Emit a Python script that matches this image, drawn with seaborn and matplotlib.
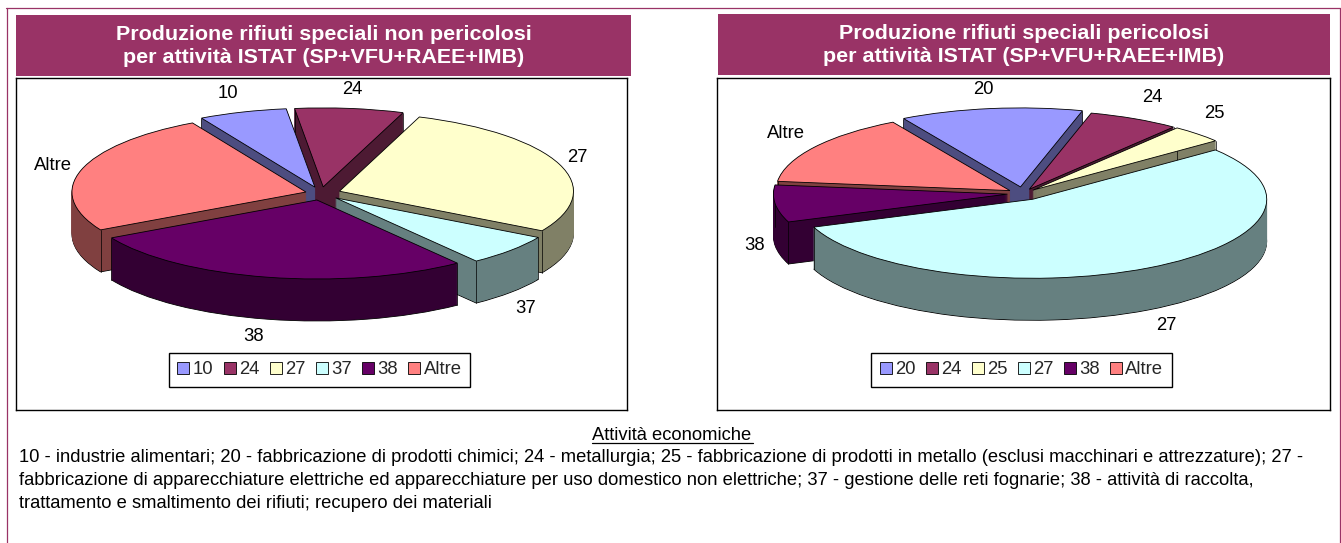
import matplotlib
matplotlib.use('Agg')
import matplotlib.pyplot as plt
from matplotlib.patches import Rectangle
from matplotlib.lines import Line2D
import numpy as np
import seaborn as sns

# values are shares (percent)
labels_left = ['10', '24', '27', '37', '38', 'Altre']
values_left = [6.1, 7.5, 27.8, 6.4, 27.3, 24.9]
labels_right = ['20', '24', '25', '27', '38', 'Altre']
values_right = [12.6, 6.3, 3.7, 55.0, 7.6, 14.8]

title_left = 'Produzione rifiuti speciali non pericolosi\nper attività ISTAT (SP+VFU+RAEE+IMB)'
title_right = 'Produzione rifiuti speciali pericolosi\nper attività ISTAT (SP+VFU+RAEE+IMB)'
note_title = 'Attività economiche'
note_lines = [
    '10 - industrie alimentari; 20 - fabbricazione di prodotti chimici; 24 - metallurgia; 25 - fabbricazione di prodotti in metallo (esclusi macchinari e attrezzature); 27 -',
    'fabbricazione di apparecchiature elettriche ed apparecchiature per uso domestico non elettriche; 37 - gestione delle reti fognarie; 38 - attività di raccolta,',
    'trattamento e smaltimento dei rifiuti; recupero dei materiali',
]

W, H = 1341, 543
BAND = '#993366'
palette = sns.color_palette(['#9999FF', '#993366', '#FFFFCC', '#CCFFFF', '#660066', '#FF8080'])

sns.set_theme(style='white')
plt.rcParams['font.family'] = ['Liberation Sans', 'DejaVu Sans']

fig = plt.figure(figsize=(W / 100, H / 100), dpi=100, facecolor='white')


def fx(x):
    return x / W


def fy(y):
    return 1 - y / H


def put_text(x, y, s, **kw):
    kw.setdefault('ha', 'center')
    kw.setdefault('va', 'center')
    kw.setdefault('color', 'black')
    fig.text(fx(x), fy(y), s, **kw)


def draw_pie(values, labels, frame, center, startangle, explode, label_pos, legend_box):
    x0, y0, x1, y1 = frame
    cx, cy = center
    rx, ry, depth = 234, 79, 42
    ax = fig.add_axes([fx(x0), fy(y1), (x1 - x0) / W, (y1 - y0) / H])

    # back slices get painted first
    shares = np.array(values) / np.sum(values) * 360
    mids = np.radians(np.cumsum(shares) - shares / 2 + 90 - startangle)
    rank = np.argsort(np.argsort(-np.cos(mids)))

    side = [tuple(np.array(c) * 0.5) for c in palette]
    layers = np.arange(depth, -1, -1)
    for n, d in enumerate(layers):
        top = d == 0
        bottom = d == depth
        wedges, _ = ax.pie(values, explode=explode, colors=palette if top else side,
                           startangle=startangle, counterclock=False,
                           center=(0, -d / ry), radius=1)
        for i, w in enumerate(wedges):
            w.set_zorder(10 + rank[i] * 100 + n)
            if top or bottom:
                w.set_edgecolor('black')
                w.set_linewidth(0.6)
            else:
                w.set_edgecolor(side[i])
                w.set_linewidth(0.5)

    # vertical corner lines on the walls, taken from the top wedges
    for i, w in enumerate(wedges):
        for t in (w.theta1, w.theta2):
            ex = w.center[0] + w.r * np.cos(np.radians(t))
            ey = w.center[1] + w.r * np.sin(np.radians(t))
            ax.plot([ex, ex], [ey, ey - depth / ry], color='black', lw=0.5,
                    zorder=10 + rank[i] * 100 + depth - 0.5)

    ax.set_xlim((x0 - cx) / rx, (x1 - cx) / rx)
    ax.set_ylim((cy - y1) / ry, (cy - y0) / ry)
    ax.set_aspect('auto')
    ax.set_frame_on(True)
    for s in ax.spines.values():
        s.set_color('black')
        s.set_linewidth(1.0)

    for s, (px, py) in zip(labels, label_pos):
        put_text(px, py, s, fontsize=13.3)

    lx0, ly0, lx1, ly1 = legend_box
    handles = [Rectangle((0, 0), 1, 1, facecolor=c, edgecolor='black', linewidth=0.6) for c in palette]
    leg = ax.legend(handles, labels, ncol=6, loc='center',
                    bbox_to_anchor=((lx0 + lx1) / 2 / W, 1 - (ly0 + ly1) / 2 / H),
                    bbox_transform=fig.transFigure, fontsize=13.3, frameon=True, fancybox=False,
                    handlelength=0.65, handleheight=0.65, handletextpad=0.17, columnspacing=0.57,
                    borderpad=0.47, borderaxespad=0)
    leg.set_zorder(5000)
    leg.get_frame().set_edgecolor('black')
    leg.get_frame().set_linewidth(1.0)
    leg.get_frame().set_alpha(1)


# outer frame
for xs, ys in [((6, 1340), (8, 8)), ((7, 7), (8, 543)), ((1340, 1340), (8, 543))]:
    fig.add_artist(Line2D([fx(xs[0]), fx(xs[1])], [fy(ys[0]), fy(ys[1])], color=BAND, lw=0.9))

# title bands
for (x0, y0, x1, y1), title in [((16, 15, 631, 76), title_left), ((718, 14, 1330, 75), title_right)]:
    fig.add_artist(Rectangle((fx(x0), fy(y1)), (x1 - x0) / W, (y1 - y0) / H, facecolor=BAND,
                             edgecolor='none', transform=fig.transFigure))
    put_text((x0 + x1) / 2, (y0 + y1) / 2 + 0.5, title, color='white', fontweight='bold',
             fontsize=15.45, linespacing=1.3)

draw_pie(values_left, labels_left, (16, 78, 627, 410), (321, 193.5), 119,
         [0.084, 0.084, 0.084, 0.084, 0.084, 0.067],
         [(227.5, 93), (352, 89.5), (577, 157), (526, 308.5), (254, 336.5), (53, 165)],
         (169, 353, 470, 387))
draw_pie(values_right, labels_right, (717, 78, 1330, 410), (1023, 193.5), 120,
         [0.084, 0.06, 0.06, 0.084, 0.067, 0.067],
         [(983, 89.5), (1152, 97), (1214, 113.5), (1166, 325.5), (755, 245), (786, 133.5)],
         (869, 353, 1174, 387))

# note below the charts
put_text(672, 435, note_title, fontsize=13.25)
fig.add_artist(Line2D([fx(592), fx(753)], [fy(442.5), fy(442.5)], color='black', lw=0.9))
for y, line in zip([462, 485, 508], note_lines):
    put_text(19, y, line, ha='left', va='baseline', fontsize=13.25)

fig.savefig('out.png', dpi=100, facecolor='white')
